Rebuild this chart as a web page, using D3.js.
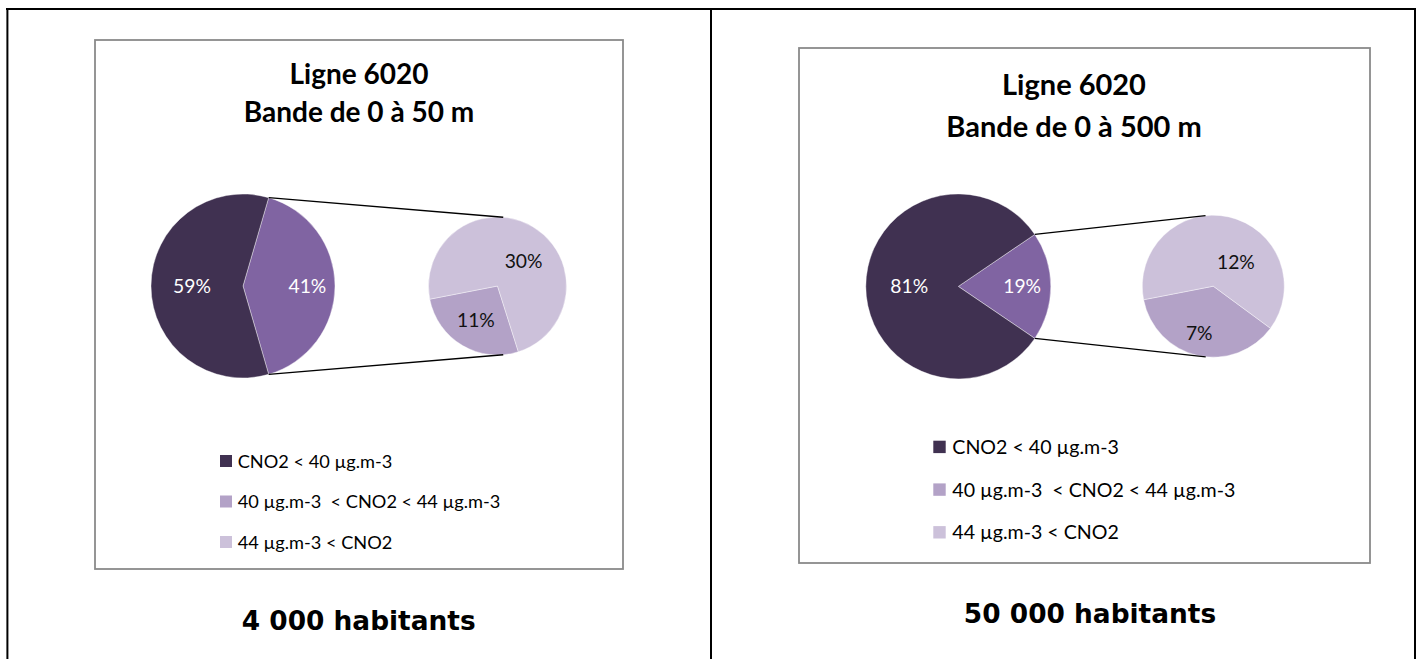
<!DOCTYPE html>
<html>
<head>
<meta charset="utf-8">
<script src="https://cdn.jsdelivr.net/npm/d3@7"></script>
<style>
  html, body { margin: 0; padding: 0; background: #fff; }
  svg { display: block; }
  text { white-space: pre; }
</style>
</head>
<body>
<svg id="chart" width="1419" height="659"></svg>
<script>
// NO2 exposure classes
const categories = ["CNO2 < 40 µg.m-3", "40 µg.m-3  < CNO2 < 44 µg.m-3", "44 µg.m-3 < CNO2"];
// Share of residents in each class (%), 0-50 m band and 0-500 m band
const shares50 = [59, 11, 30];
const shares500 = [81, 7, 12];
const titles50 = ["Ligne 6020", "Bande de 0 à 50 m"];
const titles500 = ["Ligne 6020", "Bande de 0 à 500 m"];
const populations = ["4 000 habitants", "50 000 habitants"];

const classColors = ["#403151", "#B3A2C7", "#CCC1DA"];
const groupedColor = "#8064A2";

const svg = d3.select("#chart");

// Page frame (two table cells)
const frame = svg.append("g").attr("stroke", "#000").attr("stroke-width", 2);
frame.append("line").attr("x1", 6).attr("x2", 1416).attr("y1", 9).attr("y2", 9);
[7.4, 711, 1415].forEach(x =>
  frame.append("line").attr("x1", x).attr("x2", x).attr("y1", 8).attr("y2", 659));

const panels = [
  {
    shares: shares50, titles: titles50, population: populations[0],
    box: { x: 95, y: 40, w: 528, h: 529 },
    titleX: 359, titleY: [84.3, 121.7], titleSize: 28,
    main: { cx: 243, cy: 286, r: 92 },
    second: { cx: 497.5, cy: 286, r: 69 },
    labelSize: 19.3,
    mainLabel: [0.70, 0.555],              // grouped slice, first class
    secondLabel: [{ f: 0.58, shift: 2 }, { f: 0.52, shift: 16 }],
    legend: { x: 220, y0: 455, step: 40.5, sq: 12, textX: 237.7, size: 18.2 },
    popX: 358.7, popY: 630
  },
  {
    shares: shares500, titles: titles500, population: populations[1],
    box: { x: 799, y: 48, w: 571, h: 515 },
    titleX: 1074, titleY: [95, 136.7], titleSize: 29,
    main: { cx: 958.3, cy: 286.4, r: 92.5 },
    second: { cx: 1213.3, cy: 286.2, r: 71 },
    labelSize: 19.3,
    mainLabel: [0.69, 0.53],
    secondLabel: [{ f: 0.69, shift: 4 }, { f: 0.47, shift: 30 }],
    legend: { x: 933.3, y0: 440.7, step: 42.7, sq: 12.4, textX: 952.3, size: 19.6 },
    popX: 1090, popY: 622.5
  }
];

const deg = Math.PI / 180;
const polar = (c, r, a) => [c.cx + r * Math.sin(a), c.cy - r * Math.cos(a)];

panels.forEach(p => {
  const g = svg.append("g");

  // Chart area border
  g.append("rect")
    .attr("x", p.box.x).attr("y", p.box.y)
    .attr("width", p.box.w).attr("height", p.box.h)
    .attr("fill", "#fff").attr("stroke", "#8a8a8a").attr("stroke-width", 1.8);

  // Title
  const title = g.append("text")
    .attr("x", p.titleX)
    .attr("text-anchor", "middle")
    .attr("font-family", "Lato, 'Open Sans', sans-serif")
    .attr("font-weight", "bold")
    .attr("font-size", p.titleSize)
    .attr("fill", "#000");
  p.titles.forEach((t, i) =>
    title.append("tspan").attr("x", p.titleX).attr("y", p.titleY[i]).text(t));

  // Main pie: first class + grouped remainder, the grouped slice faces the secondary pie
  const grouped = d3.sum(p.shares.slice(1));
  const mainData = [
    { value: grouped, color: groupedColor, label: grouped + "%" },
    { value: p.shares[0], color: classColors[0], label: p.shares[0] + "%" }
  ];
  const half = Math.PI * grouped / 100;
  const mainStart = Math.PI / 2 - half;
  const mainPie = d3.pie().sort(null).value(d => d.value)
    .startAngle(mainStart).endAngle(mainStart + 2 * Math.PI);
  const mainArcs = mainPie(mainData);
  const mainArc = d3.arc().innerRadius(0).outerRadius(p.main.r);

  const mg = g.append("g").attr("transform", `translate(${p.main.cx},${p.main.cy})`);
  mg.selectAll("path").data(mainArcs).join("path")
    .attr("d", mainArc)
    .attr("fill", d => d.data.color)
    .attr("stroke", "#fff").attr("stroke-width", 0.4);

  // Secondary pie: breakdown of the grouped slice
  const secData = [
    { value: p.shares[1], color: classColors[1], label: p.shares[1] + "%" },
    { value: p.shares[2], color: classColors[2], label: p.shares[2] + "%" }
  ];
  const secStart = 259 * deg - 2 * Math.PI * p.shares[1] / grouped;
  const secPie = d3.pie().sort(null).value(d => d.value)
    .startAngle(secStart).endAngle(secStart + 2 * Math.PI);
  const secArcs = secPie(secData);
  const secArc = d3.arc().innerRadius(0).outerRadius(p.second.r);

  const sg = g.append("g").attr("transform", `translate(${p.second.cx},${p.second.cy})`);
  sg.selectAll("path").data(secArcs).join("path")
    .attr("d", secArc)
    .attr("fill", d => d.data.color)
    .attr("stroke", "#fff").attr("stroke-width", 0.4);

  // Connector lines from the grouped slice edges to tangent points of the secondary pie
  const edges = [mainStart, mainStart + 2 * half];
  edges.forEach((a, i) => {
    const [px, py] = polar(p.main, p.main.r, a);
    const vx = px - p.second.cx, vy = py - p.second.cy;
    const d = Math.hypot(vx, vy);
    const phi = Math.atan2(vy, vx);
    const t = phi + (i === 0 ? 1 : -1) * Math.acos(p.second.r / d);
    const tx = p.second.cx + p.second.r * Math.cos(t);
    const ty = p.second.cy + p.second.r * Math.sin(t);
    g.append("line")
      .attr("x1", px).attr("y1", py).attr("x2", tx).attr("y2", ty)
      .attr("stroke", "#000").attr("stroke-width", 1.3);
  });

  // Data labels
  const labelFont = "Lato, 'Open Sans', sans-serif";
  mainArcs.forEach((d, i) => {
    const a = (d.startAngle + d.endAngle) / 2;
    const [x, y] = polar(p.main, p.mainLabel[i] * p.main.r, a);
    g.append("text").attr("x", x).attr("y", y).attr("dy", "0.36em")
      .attr("text-anchor", "middle")
      .attr("font-family", labelFont).attr("font-size", p.labelSize)
      .attr("fill", "#fff").text(d.data.label);
  });
  secArcs.forEach((d, i) => {
    const cfg = p.secondLabel[i];
    const a = (d.startAngle + d.endAngle) / 2 + cfg.shift * deg;
    const [x, y] = polar(p.second, cfg.f * p.second.r, a);
    g.append("text").attr("x", x).attr("y", y).attr("dy", "0.36em")
      .attr("text-anchor", "middle")
      .attr("font-family", labelFont).attr("font-size", p.labelSize)
      .attr("fill", "#111").text(d.data.label);
  });

  // Legend
  const lg = g.append("g");
  const rows = lg.selectAll("g").data(categories).join("g")
    .attr("transform", (d, i) => `translate(0,${p.legend.y0 + i * p.legend.step})`);
  rows.append("rect")
    .attr("x", p.legend.x).attr("y", 0)
    .attr("width", p.legend.sq).attr("height", p.legend.sq)
    .attr("fill", (d, i) => classColors[i]);
  rows.append("text")
    .attr("x", p.legend.textX).attr("y", p.legend.sq / 2).attr("dy", "0.36em")
    .attr("font-family", labelFont).attr("font-size", p.legend.size)
    .attr("fill", "#000").text(d => d);

  // Population under the chart
  g.append("text")
    .attr("x", p.popX).attr("y", p.popY)
    .attr("text-anchor", "middle")
    .attr("font-family", "'DejaVu Sans', Verdana, sans-serif")
    .attr("font-weight", "bold").attr("font-size", 26.4)
    .attr("fill", "#000").text(p.population);
});
</script>
</body>
</html>
